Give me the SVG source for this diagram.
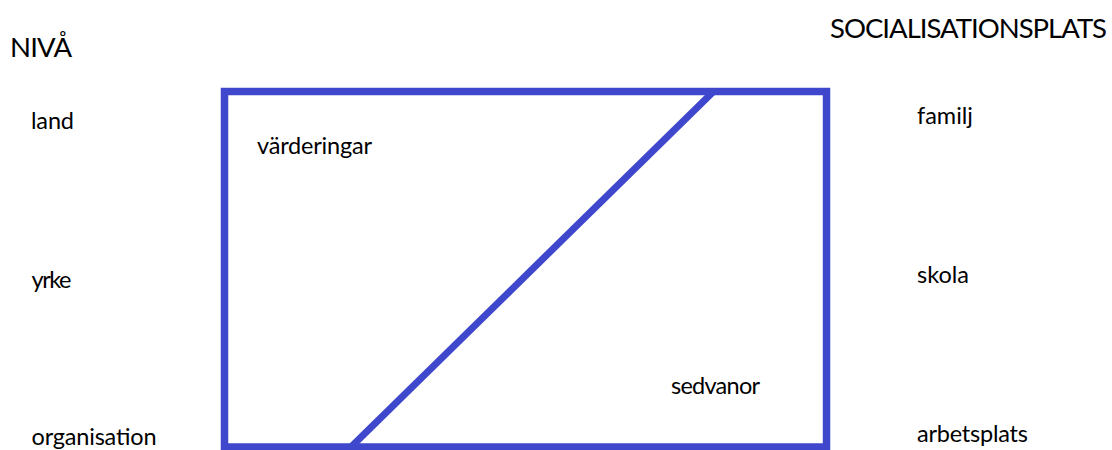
<svg xmlns="http://www.w3.org/2000/svg" width="1112" height="450" viewBox="0 0 1112 450">
  <style>
    .hdr { font-family: Lato, "Open Sans", "Liberation Sans", sans-serif; font-size: 27.5px; fill: #000; }
    .lbl { font-family: Lato, "Open Sans", "Liberation Sans", sans-serif; font-size: 23.5px; fill: #000; }
    .frame { fill: none; stroke: #3F48CC; stroke-width: 7.5; }
    .diag { fill: none; stroke: #3F48CC; stroke-width: 7; stroke-linecap: butt; }
  </style>
  <rect width="1112" height="450" fill="#ffffff"/>
  <g id="headers">
    <text id="niva" class="hdr" x="10" y="57" textLength="62">NIVÅ</text>
    <text id="socialisationsplats" class="hdr" x="830" y="38" textLength="277">SOCIALISATIONSPLATS</text>
  </g>
  <g id="levels">
    <text id="land" class="lbl" x="31" y="129" textLength="43">land</text>
    <text id="yrke" class="lbl" x="31.5" y="288" textLength="40">yrke</text>
    <text id="organisation" class="lbl" x="31.5" y="445" textLength="125">organisation</text>
  </g>
  <g id="places">
    <text id="familj" class="lbl" x="917" y="124" textLength="56">familj</text>
    <text id="skola" class="lbl" x="917" y="283" textLength="52">skola</text>
    <text id="arbetsplats" class="lbl" x="917" y="442" textLength="111">arbetsplats</text>
  </g>
  <g id="box">
    <rect class="frame" x="224.5" y="91.5" width="602" height="355.5"/>
    <text id="varderingar" class="lbl" x="257" y="154" textLength="115">värderingar</text>
    <text id="sedvanor" class="lbl" x="671" y="394" textLength="89">sedvanor</text>
  </g>
  <g id="connectors">
    <line class="diag" x1="714" y1="91" x2="351" y2="447"/>
  </g>
</svg>
